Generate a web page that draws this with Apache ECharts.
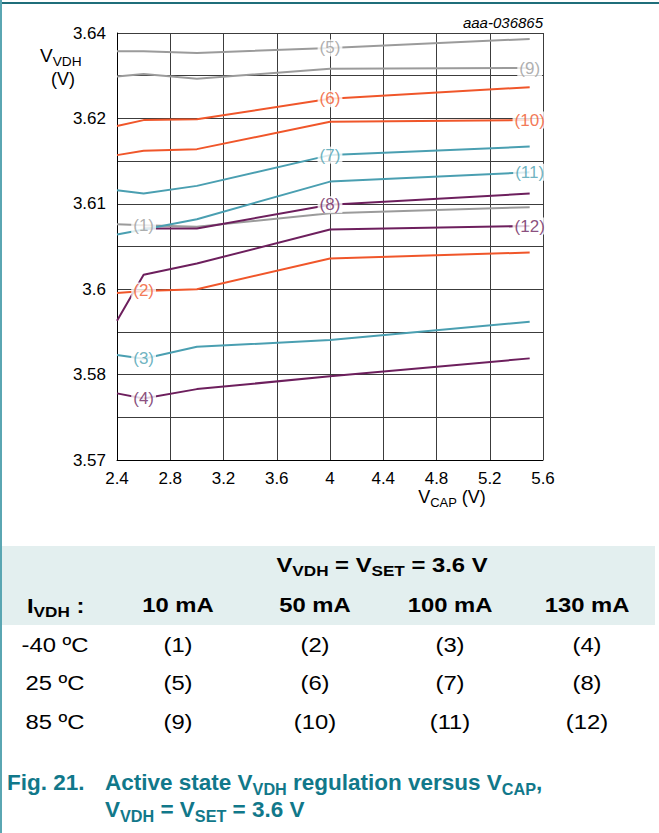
<!DOCTYPE html>
<html>
<head>
<meta charset="utf-8">
<script src="https://cdn.jsdelivr.net/npm/echarts@6/dist/echarts.min.js"></script>
<style>
  body { margin: 0; background: #fff; }
  #wrap { position: relative; width: 659px; height: 833px; overflow: hidden; font-family: "Liberation Sans", Arial, sans-serif; }
  #chart { position: absolute; left: 0; top: 0; width: 659px; height: 833px; }
  #topline { position: absolute; left: 0; top: 2px; width: 659px; height: 2px; background: #1f6e7a; }
  #leftline { position: absolute; left: 0; top: 0; width: 2px; height: 833px; background: #5aa6b2; }
  .t { position: absolute; white-space: nowrap; color: #000; line-height: 1; }
  .c { transform: translate(-50%, -50%) scaleX(1.19); }
  .l { transform: translate(0, -50%) scaleX(1.19); transform-origin: left center; }
  .sub { font-size: 0.72em; position: relative; top: 0.3em; }
  .b { font-weight: bold; }
  #hdr { position: absolute; left: 2px; top: 546px; width: 653px; height: 79px; background: #e3efef; }
  .cap { position: absolute; white-space: nowrap; color: #11788a; font-weight: bold; font-size: 22.5px; line-height: 1; }
</style>
</head>
<body>
<div id="wrap">
  <div id="hdr"></div>
  <div id="chart"></div>
  <div id="topline"></div>
  <div id="leftline"></div>

  <div class="t" style="left:40px;top:46px;font-size:19px;">V<span class="sub">VDH</span></div>
  <div class="t" style="left:63px;top:79px;font-size:18px;transform:translate(-50%,-50%);">(V)</div>
  <div class="t" style="left:452px;top:497px;font-size:18px;transform:translate(-50%,-50%);">V<span class="sub">CAP</span> (V)</div>

  <div class="t b c" style="left:382px;top:565px;font-size:20px;">V<span class="sub">VDH</span> = V<span class="sub">SET</span> = 3.6 V</div>
  <div class="t b l" style="left:27px;top:606px;font-size:20px;">I<span class="sub">VDH</span> :</div>
  <div class="t b c" style="left:178px;top:605px;font-size:20px;">10 mA</div>
  <div class="t b c" style="left:315px;top:605px;font-size:20px;">50 mA</div>
  <div class="t b c" style="left:450px;top:605px;font-size:20px;">100 mA</div>
  <div class="t b c" style="left:587px;top:605px;font-size:20px;">130 mA</div>

  <div class="t c" style="left:55px;top:645px;font-size:20px;">-40 ºC</div>
  <div class="t c" style="left:178px;top:645px;font-size:20px;">(1)</div>
  <div class="t c" style="left:315px;top:645px;font-size:20px;">(2)</div>
  <div class="t c" style="left:450px;top:645px;font-size:20px;">(3)</div>
  <div class="t c" style="left:587px;top:645px;font-size:20px;">(4)</div>

  <div class="t c" style="left:55px;top:683px;font-size:20px;">25 ºC</div>
  <div class="t c" style="left:178px;top:683px;font-size:20px;">(5)</div>
  <div class="t c" style="left:315px;top:683px;font-size:20px;">(6)</div>
  <div class="t c" style="left:450px;top:683px;font-size:20px;">(7)</div>
  <div class="t c" style="left:587px;top:683px;font-size:20px;">(8)</div>

  <div class="t c" style="left:55px;top:722px;font-size:20px;">85 ºC</div>
  <div class="t c" style="left:178px;top:722px;font-size:20px;">(9)</div>
  <div class="t c" style="left:315px;top:722px;font-size:20px;">(10)</div>
  <div class="t c" style="left:450px;top:722px;font-size:20px;">(11)</div>
  <div class="t c" style="left:587px;top:722px;font-size:20px;">(12)</div>

  <div class="cap" style="left:7px;top:772px;">Fig. 21.</div>
  <div class="cap" style="left:105px;top:772px;">Active state V<span class="sub">VDH</span> regulation versus V<span class="sub">CAP</span>,</div>
  <div class="cap" style="left:105px;top:799px;">V<span class="sub">VDH</span> = V<span class="sub">SET</span> = 3.6 V</div>
</div>
<script>
// ---- data ----
const vcap = [2.4, 2.6, 3.0, 4.0, 5.5];
const yBreaks = [3.57, 3.58, 3.60, 3.61, 3.62, 3.64];
const yTickLabels = ['3.57', '3.58', '3.6', '3.61', '3.62', '3.64'];
const curveNames = ['(1)', '(2)', '(3)', '(4)', '(5)', '(6)', '(7)', '(8)', '(9)', '(10)', '(11)', '(12)'];
const v1  = [3.6076, 3.6075, 3.6073, 3.6089, 3.6096];
const v2  = [3.5991, 3.5996, 3.6000, 3.6036, 3.6043];
const v3  = [3.5846, 3.5837, 3.5865, 3.5881, 3.5924];
const v4  = [3.5778, 3.5772, 3.5783, 3.5798, 3.5838];
const v5  = [3.6357, 3.6357, 3.6353, 3.6365, 3.6386];
const v6  = [3.6191, 3.6198, 3.6199, 3.6246, 3.6273];
const v7  = [3.6116, 3.6112, 3.6121, 3.6157, 3.6167];
const v8  = [null,   3.6071, 3.6071, 3.6099, 3.6112];
const v9  = [3.6298, 3.6304, 3.6293, 3.6316, 3.6318];
const v10 = [3.6157, 3.6162, 3.6164, 3.6196, 3.6198];
const v11 = [3.6064, 3.6070, 3.6082, 3.6126, 3.6137];
const v12 = [3.5926, 3.6017, 3.6030, 3.6070, 3.6074];
const labelAt = [1, 1, 1, 1, 3, 3, 3, 3, 4, 4, 4, 4];

// ---- styling ----
const GRAY = '#9b9b9b', ORANGE = '#f0562a', TEAL = '#4a9fb1', PURPLE = '#6d1f5d';
const colors = [GRAY, ORANGE, TEAL, PURPLE, GRAY, ORANGE, TEAL, PURPLE, GRAY, ORANGE, TEAL, PURPLE];
const allValues = [v1, v2, v3, v4, v5, v6, v7, v8, v9, v10, v11, v12];

// piecewise axis: each labelled interval occupies one equal unit
function toAxis(v) {
  if (v == null) return null;
  for (let i = 0; i < yBreaks.length - 1; i++) {
    if (v <= yBreaks[i + 1] || i === yBreaks.length - 2) {
      return i + (v - yBreaks[i]) / (yBreaks[i + 1] - yBreaks[i]);
    }
  }
}

const FONT = '"Liberation Sans", Arial, sans-serif';
const series = [];
allValues.forEach((vals, k) => {
  series.push({
    type: 'line',
    name: curveNames[k],
    data: vals.map((v, i) => [vcap[i], toAxis(v)]),
    showSymbol: false,
    symbol: 'none',
    connectNulls: false,
    lineStyle: { color: colors[k], width: 2 },
    z: 2
  });
});
const labelData = allValues.map((vals, k) => ({
  value: [vcap[labelAt[k]], toAxis(vals[labelAt[k]])],
  name: curveNames[k],
  label: { color: colors[k] }
}));
series.push({
  type: 'scatter',
  data: labelData,
  symbol: 'circle',
  symbolSize: 1,
  itemStyle: { color: '#fff' },
  z: 10,
  label: {
    show: true,
    position: 'inside',
    formatter: p => p.name,
    fontSize: 17,
    fontFamily: FONT,
    backgroundColor: '#fff',
    padding: [0, 2]
  },
  silent: true
});

const chart = echarts.init(document.getElementById('chart'), null, { renderer: 'svg' });
chart.setOption({
  animation: false,
  backgroundColor: 'transparent',
  grid: { left: 117, top: 33, width: 426, height: 427, containLabel: false },
  graphic: [{
    type: 'text', right: 116, top: 15,
    style: { text: 'aaa-036865', font: 'italic 15px ' + FONT, fill: '#000' }
  }],
  xAxis: {
    type: 'value', min: 2.4, max: 5.6, interval: 0.4,
    axisLine: { lineStyle: { color: '#000', width: 1 } },
    axisTick: { show: false },
    axisLabel: { fontSize: 17, color: '#000', fontFamily: FONT, margin: 10,
      formatter: v => String(+v.toFixed(1)) },
    splitLine: { show: true, lineStyle: { color: '#3c3c3c', width: 1 } }
  },
  yAxis: {
    type: 'value', min: 0, max: 5, interval: 0.5,
    axisLine: { show: true, lineStyle: { color: '#000', width: 1 } },
    axisTick: { show: false },
    axisLabel: { fontSize: 17, color: '#000', fontFamily: FONT, margin: 11,
      formatter: v => (Math.abs(v - Math.round(v)) < 1e-6 ? yTickLabels[Math.round(v)] : '') },
    splitLine: { show: true, lineStyle: { color: '#3c3c3c', width: 1 } }
  },
  series: series
});
</script>
</body>
</html>
